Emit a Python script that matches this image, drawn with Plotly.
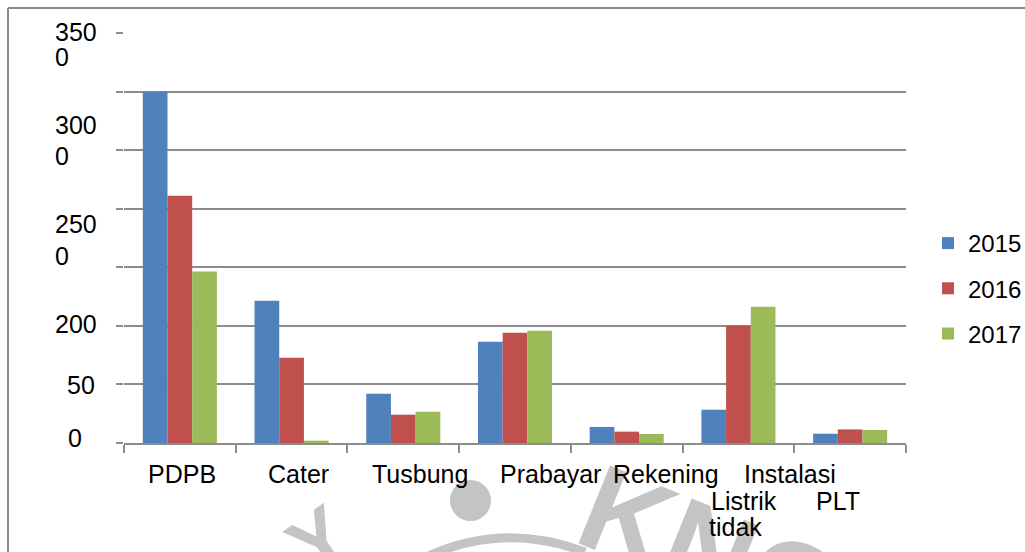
import plotly.graph_objects as go

# ---- data ----
categories = ["PDPB", "Cater", "Tusbung", "Prabayar", "Rekening", "Instalasi", "PLT"]
years = ["2015", "2016", "2017"]
v2015 = [3000, 1215, 421, 865, 137, 284, 79]
v2016 = [2111, 728, 242, 942, 97, 1001, 116]
v2017 = [1465, 20, 267, 959, 77, 1164, 111]
colors = ["#4f81bd", "#c0504d", "#9bbb59"]

# text shown under the axis (as printed in the source)
xlabel_texts = ["PDPB", "Cater", "Tusbung", "Prabayar", "Rekening", "Instalasi", "Listrik", "PLT", "tidak"]
ylabel_texts = ["350", "0", "300", "0", "250", "0", "200", "50", "0"]

# ---- layout geometry (pixels) ----
W, H = 1025, 552
L, R, T, B = 124, 906, 33, 443
def px(x): return (x - L) / (R - L)
def py(y): return (B - y) / (B - T)

FONT = "Liberation Sans, Arial, sans-serif"

fig = go.Figure()
for name, vals, col in zip(years, [v2015, v2016, v2017], colors):
    fig.add_trace(go.Bar(x=categories, y=vals, name=name, marker_color=col,
                         marker_line_width=0, legendgroup=name))

annotations = []
# watermark first (drawn beneath the texts)
wm = "#c4c4c4"
annotations.append(dict(text="<b>KNO</b>", x=px(712), y=py(552), xref="paper", yref="paper",
                        xanchor="center", yanchor="middle", showarrow=False, textangle=22,
                        font=dict(family=FONT, size=122, color=wm)))
annotations.append(dict(text="<b>Y</b>", x=px(318), y=py(540), xref="paper", yref="paper",
                        xanchor="center", yanchor="middle", showarrow=False, textangle=-35,
                        font=dict(family=FONT, size=80, color=wm)))

xl_pos = [(182, 474), (298, 474), (420, 474), (550, 474), (666, 474),
          (790, 474), (744, 501), (838, 501), (735, 527)]
for t, (x, y) in zip(xlabel_texts, xl_pos):
    annotations.append(dict(text=t, x=px(x), y=py(y), xref="paper", yref="paper",
                            xanchor="center", yanchor="middle", showarrow=False,
                            font=dict(family=FONT, size=25, color="#000")))
yl_pos = [(53, 32), (53, 57), (53, 125), (53, 156), (53, 224), (53, 256),
          (53, 324), (65, 385), (66, 438)]
for t, (x, y) in zip(ylabel_texts, yl_pos):
    annotations.append(dict(text=t, x=px(x), y=py(y), xref="paper", yref="paper",
                            xanchor="left", yanchor="middle", showarrow=False,
                            font=dict(family=FONT, size=25, color="#000")))

shapes = [
    dict(type="line", xref="paper", yref="paper", x0=px(8), x1=px(8), y0=py(8), y1=py(560),
         line=dict(color="#8a8a8a", width=2)),
    dict(type="line", xref="paper", yref="paper", x0=px(8), x1=px(1030), y0=py(8), y1=py(8),
         line=dict(color="#8a8a8a", width=2)),
    dict(type="circle", xref="paper", yref="paper", x0=px(450), x1=px(491), y0=py(480), y1=py(521),
         fillcolor=wm, line=dict(width=0), layer="below"),
    dict(type="path", xref="paper", yref="paper",
         path=f"M {px(420)} {py(560)} Q {px(500)} {py(520)} {px(585)} {py(552)}",
         line=dict(color=wm, width=9), layer="below"),
]

fig.update_layout(
    width=W, height=H,
    margin=dict(l=L, r=W - R, t=T, b=H - B, autoexpand=False),
    paper_bgcolor="white", plot_bgcolor="white",
    barmode="group", bargap=0.337, bargroupgap=0,
    font=dict(family=FONT, size=25, color="#000"),
    xaxis=dict(type="category", showticklabels=False, ticks="outside", ticklen=8,
               tickcolor="#8c8c8c", tickwidth=1.5, tickson="boundaries",
               showline=True, linecolor="#8c8c8c", linewidth=1.5, showgrid=False,
               zeroline=False),
    yaxis=dict(range=[0, 3501], dtick=500, showticklabels=False, ticks="outside",
               ticklen=7, tickcolor="#8c8c8c", tickwidth=1.5,
               showgrid=True, gridcolor="#8c8c8c", gridwidth=1.5, zeroline=False,
               showline=False),
    legend=dict(x=px(928), y=py(221), xanchor="left", yanchor="top",
                font=dict(family=FONT, size=24, color="#000"),
                traceorder="grouped", tracegroupgap=11, bgcolor="rgba(0,0,0,0)"),
    annotations=annotations, shapes=shapes,
)

fig.write_html("out.html")
